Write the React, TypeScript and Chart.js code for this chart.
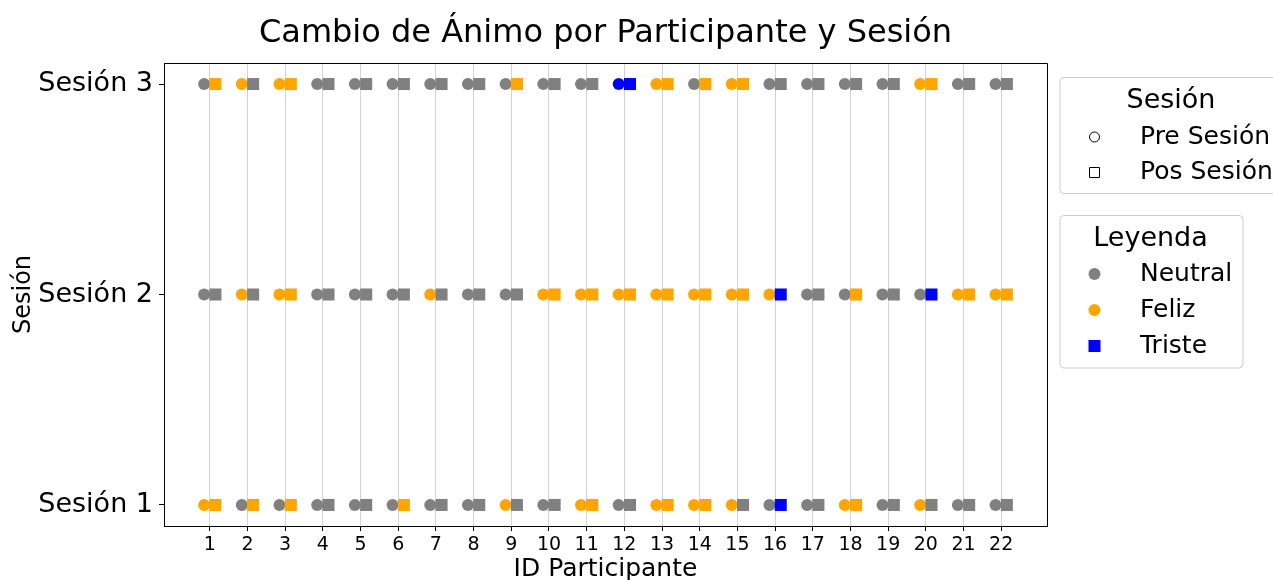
import React, { useEffect, useRef } from 'react';
import { Chart, registerables } from 'chart.js';

Chart.register(...registerables);

const participants = [1, 2, 3, 4, 5, 6, 7, 8, 9, 10, 11, 12, 13, 14, 15, 16, 17, 18, 19, 20, 21, 22];
const sessions = [1, 2, 3];
const sessionLabels = ['Sesión 1', 'Sesión 2', 'Sesión 3'];

// Mood codes: N = Neutral, F = Feliz, T = Triste
const preS1 = ['F', 'N', 'N', 'N', 'N', 'N', 'N', 'N', 'F', 'N', 'F', 'N', 'F', 'F', 'F', 'N', 'N', 'F', 'N', 'F', 'N', 'N'];
const postS1 = ['F', 'F', 'F', 'N', 'N', 'F', 'N', 'N', 'N', 'N', 'F', 'N', 'F', 'F', 'N', 'T', 'N', 'F', 'N', 'N', 'N', 'N'];
const preS2 = ['N', 'F', 'F', 'N', 'N', 'N', 'F', 'N', 'N', 'F', 'F', 'F', 'F', 'F', 'F', 'F', 'N', 'N', 'N', 'N', 'F', 'F'];
const postS2 = ['N', 'N', 'F', 'N', 'N', 'N', 'N', 'N', 'N', 'F', 'F', 'F', 'F', 'F', 'F', 'T', 'N', 'F', 'N', 'T', 'F', 'F'];
const preS3 = ['N', 'F', 'F', 'N', 'N', 'N', 'N', 'N', 'N', 'N', 'N', 'T', 'F', 'N', 'F', 'N', 'N', 'N', 'N', 'F', 'N', 'N'];
const postS3 = ['F', 'N', 'F', 'N', 'N', 'N', 'N', 'N', 'F', 'N', 'N', 'T', 'F', 'F', 'F', 'N', 'N', 'N', 'N', 'F', 'N', 'N'];

const moodNames = ['Neutral', 'Feliz', 'Triste'];
const moodCodes = ['N', 'F', 'T'];
const moodColors: Record<string, string> = { N: '#808080', F: '#FFA500', T: '#0000FF' };
const phaseNames = ['Pre Sesión', 'Pos Sesión'];

const titleText = 'Cambio de Ánimo por Participante y Sesión';
const xTitle = 'ID Participante';
const yTitle = 'Sesión';

const FONT = "'DejaVu Sans', sans-serif";
const OFFSET = 0.15;

function roundRectPath(ctx: CanvasRenderingContext2D, x: number, y: number, w: number, h: number, r: number) {
  ctx.beginPath();
  ctx.moveTo(x + r, y);
  ctx.lineTo(x + w - r, y);
  ctx.arcTo(x + w, y, x + w, y + r, r);
  ctx.lineTo(x + w, y + h - r);
  ctx.arcTo(x + w, y + h, x + w - r, y + h, r);
  ctx.lineTo(x + r, y + h);
  ctx.arcTo(x, y + h, x, y + h - r, r);
  ctx.lineTo(x, y + r);
  ctx.arcTo(x, y, x + r, y, r);
  ctx.closePath();
}

const decorPlugin = {
  id: 'decor',
  afterDraw(chart: any) {
    const ctx: CanvasRenderingContext2D = chart.ctx;
    const area = chart.chartArea;
    ctx.save();
    // spines
    ctx.strokeStyle = '#000';
    ctx.lineWidth = 1;
    ctx.beginPath();
    ctx.rect(Math.round(area.left) + 0.5, Math.round(area.top) + 0.5, Math.round(area.right - area.left), Math.round(area.bottom - area.top));
    ctx.stroke();

    const cx = (area.left + area.right) / 2;
    ctx.fillStyle = '#000';
    // title
    ctx.font = `32px ${FONT}`;
    ctx.textAlign = 'center';
    ctx.textBaseline = 'alphabetic';
    ctx.fillText(titleText, cx, 42);
    // x title
    ctx.font = `25px ${FONT}`;
    ctx.fillText(xTitle, cx, 576);
    // y title
    ctx.save();
    ctx.translate(30, (area.top + area.bottom) / 2);
    ctx.rotate(-Math.PI / 2);
    ctx.font = `24px ${FONT}`;
    ctx.fillText(yTitle, 0, 0);
    ctx.restore();

    // Legend 1: Sesión
    ctx.fillStyle = 'rgba(255,255,255,0.8)';
    ctx.strokeStyle = '#cccccc';
    roundRectPath(ctx, 1060, 77.5, 230, 116, 4);
    ctx.fill();
    ctx.stroke();
    ctx.fillStyle = '#000';
    ctx.font = `27px ${FONT}`;
    ctx.textAlign = 'center';
    ctx.fillText('Sesión', 1171, 108);
    ctx.font = `25px ${FONT}`;
    ctx.textAlign = 'left';
    ctx.textBaseline = 'middle';
    const rows1 = [137, 172.5];
    phaseNames.forEach((name, i) => {
      const y = rows1[i];
      ctx.strokeStyle = '#000';
      ctx.fillStyle = '#fff';
      ctx.lineWidth = 1;
      ctx.beginPath();
      if (i === 0) {
        ctx.arc(1094.5, y, 5, 0, Math.PI * 2);
      } else {
        ctx.rect(1089.5, y - 5, 10, 10);
      }
      ctx.fill();
      ctx.stroke();
      ctx.fillStyle = '#000';
      ctx.fillText(name, 1140, y);
    });

    // Legend 2: Leyenda
    ctx.textBaseline = 'alphabetic';
    ctx.fillStyle = 'rgba(255,255,255,0.8)';
    ctx.strokeStyle = '#cccccc';
    roundRectPath(ctx, 1060, 215.5, 183, 152.5, 4);
    ctx.fill();
    ctx.stroke();
    ctx.fillStyle = '#000';
    ctx.font = `27px ${FONT}`;
    ctx.textAlign = 'center';
    ctx.fillText('Leyenda', 1150.5, 246);
    ctx.font = `25px ${FONT}`;
    ctx.textAlign = 'left';
    ctx.textBaseline = 'middle';
    const rows2 = [274, 310, 346];
    moodNames.forEach((name, i) => {
      const y = rows2[i];
      ctx.fillStyle = moodColors[moodCodes[i]];
      ctx.beginPath();
      if (moodCodes[i] === 'T') {
        ctx.rect(1088.5, y - 6, 12, 12);
      } else {
        ctx.arc(1094.5, y, 6, 0, Math.PI * 2);
      }
      ctx.fill();
      ctx.fillStyle = '#000';
      ctx.fillText(name, 1140, y);
    });
    ctx.restore();
  },
};

export default function App() {
  const canvasRef = useRef<HTMLCanvasElement | null>(null);

  useEffect(() => {
    document.body.style.margin = '0';
    const canvas = canvasRef.current;
    if (!canvas) return;

    const preBySession = [preS1, preS2, preS3];
    const postBySession = [postS1, postS2, postS3];

    const postSets = sessions.map((s, si) => ({
      label: `Pos ${s}`,
      data: participants.map((p) => ({ x: p + OFFSET, y: s })),
      pointStyle: 'rect',
      pointRadius: 8.5,
      pointBorderWidth: 0,
      pointBackgroundColor: postBySession[si].map((m) => moodColors[m]),
      pointBorderColor: postBySession[si].map((m) => moodColors[m]),
      showLine: false,
    }));
    const preSets = sessions.map((s, si) => ({
      label: `Pre ${s}`,
      data: participants.map((p) => ({ x: p - OFFSET, y: s })),
      pointStyle: 'circle',
      pointRadius: 6,
      pointBorderWidth: 0,
      pointBackgroundColor: preBySession[si].map((m) => moodColors[m]),
      pointBorderColor: preBySession[si].map((m) => moodColors[m]),
      showLine: false,
    }));

    const chart = new Chart(canvas, {
      type: 'scatter',
      data: { datasets: [...postSets, ...preSets] as any },
      options: {
        animation: false,
        responsive: false,
        events: [],
        layout: { padding: { top: 63, right: 226, left: 0, bottom: 0 } },
        plugins: {
          legend: { display: false },
          tooltip: { enabled: false },
          title: { display: false },
        },
        scales: {
          x: {
            type: 'linear',
            min: -0.215,
            max: 23.215,
            afterBuildTicks: (scale: any) => {
              scale.ticks = participants.map((v) => ({ value: v }));
            },
            afterFit: (scale: any) => {
              scale.height = 54;
            },
            ticks: {
              autoSkip: false,
              maxRotation: 0,
              includeBounds: false,
              color: '#000',
              padding: 3,
              font: { family: FONT, size: 19 },
              callback: (v: any) => String(v),
            },
            grid: {
              color: '#d3d3d3',
              tickColor: '#000',
              tickLength: 5,
              lineWidth: 1,
            },
            border: { color: '#000', width: 1 },
          },
          y: {
            type: 'linear',
            min: 0.9,
            max: 3.1,
            afterBuildTicks: (scale: any) => {
              scale.ticks = sessions.map((v) => ({ value: v }));
            },
            afterFit: (scale: any) => {
              scale.width = 164;
            },
            ticks: {
              autoSkip: false,
              includeBounds: false,
              color: '#000',
              padding: 6,
              font: { family: FONT, size: 27 },
              callback: (v: any) => sessionLabels[sessions.indexOf(Number(v))] ?? '',
            },
            grid: {
              drawOnChartArea: false,
              tickColor: '#000',
              tickLength: 5,
            },
            border: { color: '#000', width: 1 },
          },
        },
      } as any,
      plugins: [decorPlugin],
    });

    return () => chart.destroy();
  }, []);

  return (
    <div style={{ width: 1273, height: 580, background: '#fff' }}>
      <canvas ref={canvasRef} width={1273} height={580} style={{ display: 'block' }} />
    </div>
  );
}
